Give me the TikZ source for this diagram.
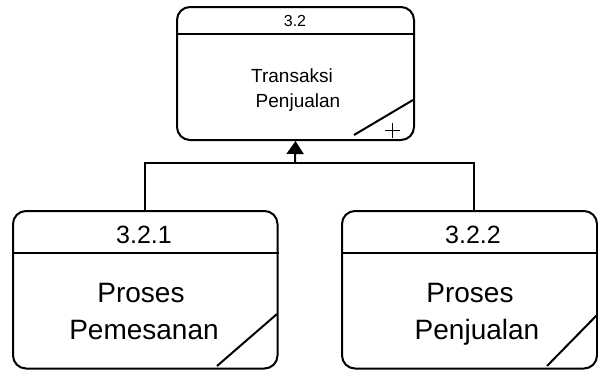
\documentclass[tikz,border=0pt]{standalone}
\usepackage{fontspec}
\setmainfont{Liberation Sans}
\usetikzlibrary{arrows.meta}
\begin{document}
\begin{tikzpicture}[x=1pt,y=-1pt,
  procbox/.style={draw,line width=2pt,rounded corners=13pt,inner sep=0pt},
  sepline/.style={line width=2pt},
  conn/.style={line width=2pt},
  diag/.style={line width=2pt},
  smalltxt/.style={anchor=base,inner sep=0pt,font=\fontsize{16}{18}\selectfont},
  midtxt/.style={anchor=base,inner sep=0pt,font=\fontsize{19}{22}\selectfont},
  numtxt/.style={anchor=base,inner sep=0pt,font=\fontsize{25}{28}\selectfont},
  bigtxt/.style={anchor=base,inner sep=0pt,font=\fontsize{28}{32}\selectfont}]
\useasboundingbox (0,0) rectangle (598,372);
% boxes
\node[procbox,minimum width=237pt,minimum height=133pt] (top) at (295.5,73.5) {};
\node[procbox,minimum width=264.5pt,minimum height=157.5pt] (c1) at (145.25,289.75) {};
\node[procbox,minimum width=255pt,minimum height=157.5pt] (c2) at (469.5,289.75) {};
% separators
\draw[sepline] (top.west |- 0,34) -- (top.east |- 0,34);
\draw[sepline] (c1.west |- 0,253) -- (c1.east |- 0,253);
\draw[sepline] (c2.west |- 0,253) -- (c2.east |- 0,253);
% diagonals
\draw[diag] (354,135) -- (413,100);
\draw[diag] (217,366) -- (277,314);
\draw[diag] (547,366) -- (597,315);
% plus
\draw[line width=0.9pt] (385,130.5) -- (400,130.5) (392.5,123) -- (392.5,138);
% texts
\node[smalltxt] (t0) at (295,27) {3.2};
\node[midtxt] (t1) at (292,82) {Transaksi};
\node[midtxt] (t2) at (298,107) {Penjualan};
\node[numtxt] (a0) at (144,243) {3.2.1};
\node[bigtxt] (a1) at (141,302) {Proses};
\node[bigtxt] (a2) at (144,339) {Pemesanan};
\node[numtxt] (b0) at (473,243) {3.2.2};
\node[bigtxt] (b1) at (470,302) {Proses};
\node[bigtxt] (b2) at (477,339) {Penjualan};
% connectors
\coordinate (j) at (295,163);
\coordinate (c2top) at (474,211);
\draw[conn] (c1.north) |- (j) -| (c2top);
\draw[conn,-{Triangle[width=17pt,length=13pt]}] (j) -- (top.south);
\end{tikzpicture}
\end{document}
